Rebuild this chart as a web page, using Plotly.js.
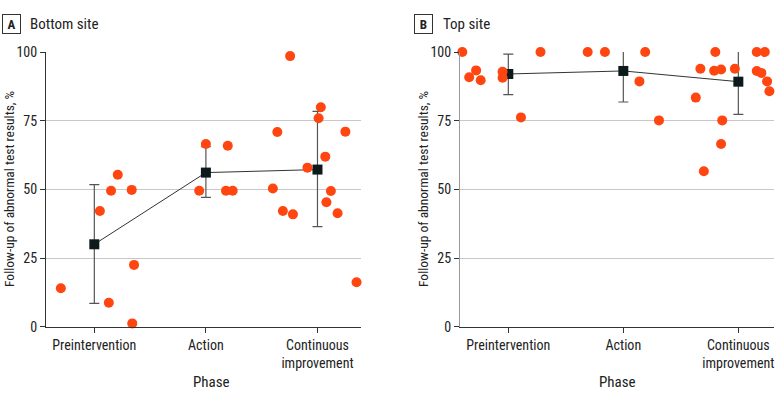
<!DOCTYPE html>
<html>
<head>
<meta charset="utf-8">
<script src="https://cdn.plot.ly/plotly-3.0.1.min.js"></script>
<style>html,body{margin:0;padding:0;background:#fff;}#chart{width:780px;height:400px;}</style>
</head>
<body>
<div id="chart"></div>
<script>
// ---- Data ----
const phases = ["Preintervention", "Action", "Continuous<br>improvement"];
const phaseIndex = [0, 1, 2];
const yTicks = [0, 25, 50, 75, 100];

// Panel A: Bottom site - individual values (x = jittered phase position)
const bottomX = [-0.30, 0.05, 0.15, 0.21, 0.335, 0.356, 0.13, 0.34,
                 0.94, 1.00, 1.196, 1.18, 1.24,
                 1.60, 1.64, 1.69, 1.755, 1.78, 1.91, 2.01, 2.03, 2.07, 2.08, 2.12, 2.18, 2.25, 2.35];
const bottomY = [14.0, 42.1, 49.5, 55.3, 49.8, 22.5, 8.7, 1.2,
                 49.5, 66.5, 65.9, 49.5, 49.5,
                 50.3, 70.9, 42.1, 98.5, 40.9, 57.9, 75.9, 79.9, 61.9, 45.3, 49.4, 41.3, 71.0, 16.2];
const bottomMean = [30.0, 56.1, 57.2];
const bottomErrUp = [21.7, 9.4, 21.2];
const bottomErrDown = [21.5, 9.0, 20.8];

// Panel B: Top site
const topX = [-0.40, -0.34, -0.28, -0.24, -0.05, -0.05, 0.11, 0.28,
              0.69, 0.84, 1.14, 1.19, 1.31,
              1.63, 1.67, 1.70, 1.79, 1.80, 1.85, 1.85, 1.86, 1.97, 2.16, 2.16, 2.20, 2.23, 2.25, 2.27];
const topY = [100, 90.8, 93.3, 89.7, 92.8, 90.6, 76.2, 100,
              100, 100, 89.3, 100, 75.1,
              83.4, 93.9, 56.6, 93.2, 100, 93.6, 66.5, 75.1, 93.9, 100, 93.1, 92.4, 100, 89.3, 85.7];
const topMean = [92.0, 93.1, 89.2];
const topErrUp = [7.2, 11.1, 11.5];
const topErrDown = [7.5, 11.3, 11.9];

// ---- Styles ----
const FONT = "Liberation Sans Narrow, Roboto Condensed, Roboto, Arial, sans-serif";
const DOT = "#ff4510";
const SQ = "#0c1a1c";

function meanTrace(y, up, down, xa, ya) {
  return {
    x: phaseIndex, y: y, xaxis: xa, yaxis: ya, type: "scatter", mode: "lines+markers",
    line: {color: "#333", width: 1},
    marker: {symbol: "square", size: 10, color: SQ},
    error_y: {type: "data", symmetric: false, array: up, arrayminus: down,
              color: "#555", thickness: 1.2, width: 5},
    cliponaxis: false, hoverinfo: "skip", showlegend: false
  };
}
function dotTrace(x, y, xa, ya) {
  return {
    x: x, y: y, xaxis: xa, yaxis: ya, type: "scatter", mode: "markers",
    marker: {size: 10, color: DOT}, cliponaxis: false, showlegend: false
  };
}

const data = [
  meanTrace(bottomMean, bottomErrUp, bottomErrDown, "x", "y"),
  dotTrace(bottomX, bottomY, "x", "y"),
  meanTrace(topMean, topErrUp, topErrDown, "x2", "y2"),
  dotTrace(topX, topY, "x2", "y2")
];

const yDomain = [73.3/400, 348/400];
function xax(domain, range, anchor) {
  return {
    domain: domain, range: range, anchor: anchor,
    tickmode: "array", tickvals: phaseIndex, ticktext: phases,
    ticks: "outside", ticklen: 5, tickcolor: "#333", tickwidth: 1,
    showline: true, linecolor: "#333", linewidth: 1,
    showgrid: false, zeroline: false,
    tickfont: {family: FONT, size: 14, color: "#222"}
  };
}
function yax(anchor, lineColor) {
  return {
    domain: yDomain, range: [0, 100], anchor: anchor,
    tickmode: "array", tickvals: yTicks,
    ticks: "outside", ticklen: 5, tickcolor: "#333", tickwidth: 1,
    showline: true, linecolor: lineColor, linewidth: 1,
    showgrid: true, gridcolor: "#c8c8c8", gridwidth: 1, zeroline: false,
    tickfont: {family: FONT, size: 14, color: "#222"}
  };
}

const layout = {
  width: 780, height: 400,
  margin: {l: 0, r: 0, t: 0, b: 0},
  paper_bgcolor: "#fff", plot_bgcolor: "#fff",
  font: {family: FONT, color: "#222"},
  xaxis: xax([46/780, 361/780], [-0.433, 2.39], "y"),
  yaxis: yax("x", "#333"),
  xaxis2: xax([460/780, 774/780], [-0.42, 2.31], "y2"),
  yaxis2: yax("x2", "#999"),
  annotations: [
    {xref: "paper", yref: "paper", x: 11/780, y: 1 - 24/400, text: "<b>A</b>", showarrow: false,
     xanchor: "center", yanchor: "middle", width: 17, height: 18, bordercolor: "#333", borderwidth: 1,
     borderpad: 0, font: {family: FONT, size: 13, color: "#222"}},
    {xref: "paper", yref: "paper", x: 28/780, y: 1 - 24/400, text: "Bottom site", showarrow: false,
     xanchor: "left", yanchor: "middle", font: {family: FONT, size: 15, color: "#222"}},
    {xref: "paper", yref: "paper", x: 423.5/780, y: 1 - 24/400, text: "<b>B</b>", showarrow: false,
     xanchor: "center", yanchor: "middle", width: 17, height: 18, bordercolor: "#333", borderwidth: 1,
     borderpad: 0, font: {family: FONT, size: 13, color: "#222"}},
    {xref: "paper", yref: "paper", x: 441/780, y: 1 - 24/400, text: "Top site", showarrow: false,
     xanchor: "left", yanchor: "middle", font: {family: FONT, size: 15, color: "#222"}},
    {xref: "paper", yref: "paper", x: 9/780, y: 1 - 189/400, text: "Follow-up of abnormal test results, %",
     textangle: -90, showarrow: false, xanchor: "center", yanchor: "middle",
     font: {family: FONT, size: 13.5, color: "#222"}},
    {xref: "paper", yref: "paper", x: 423/780, y: 1 - 189/400, text: "Follow-up of abnormal test results, %",
     textangle: -90, showarrow: false, xanchor: "center", yanchor: "middle",
     font: {family: FONT, size: 13.5, color: "#222"}},
    {xref: "paper", yref: "paper", x: 212/780, y: 1 - 382/400, text: "Phase", showarrow: false,
     xanchor: "center", yanchor: "middle", font: {family: FONT, size: 15, color: "#222"}},
    {xref: "paper", yref: "paper", x: 617/780, y: 1 - 382/400, text: "Phase", showarrow: false,
     xanchor: "center", yanchor: "middle", font: {family: FONT, size: 15, color: "#222"}}
  ]
};

Plotly.newPlot("chart", data, layout, {staticPlot: true, displayModeBar: false});
</script>
</body>
</html>
